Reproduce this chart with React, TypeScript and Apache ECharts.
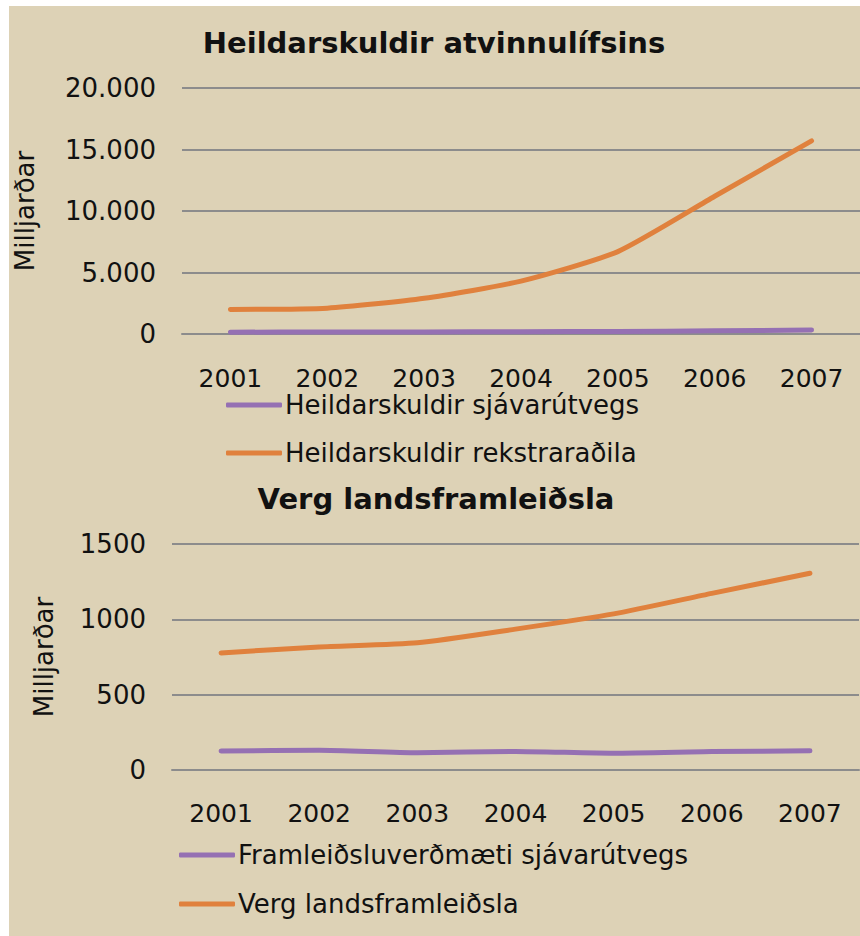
import React, { useEffect, useRef } from "react";
import * as echarts from "echarts";

const years = ["2001", "2002", "2003", "2004", "2005", "2006", "2007"];

const debtFishing = [150, 160, 170, 190, 210, 260, 320];
const debtBusiness = [2000, 2100, 2900, 4300, 6700, 11200, 15700];

const fishingProduction = [126, 131, 115, 123, 111, 122, 127];
const gdp = [777, 817, 844, 935, 1036, 1172, 1306];

const title1 = "Heildarskuldir atvinnulífsins";
const title2 = "Verg landsframleiðsla";
const yName = "Milljarðar";
const s1Names = ["Heildarskuldir sjávarútvegs", "Heildarskuldir rekstraraðila"];
const s2Names = ["Framleiðsluverðmæti sjávarútvegs", "Verg landsframleiðsla"];

const PURPLE = "#9570B3";
const ORANGE = "#E0813D";
const GRID = "#8C8C8C";
const FONT = "'DejaVu Sans', sans-serif";

export default function App() {
  const ref = useRef<HTMLDivElement>(null);
  useEffect(() => {
    if (!ref.current) return;
    const chart = echarts.init(ref.current, undefined, { renderer: "svg" });
    const axisLabel = { color: "#111", fontFamily: FONT, fontSize: 25, lineHeight: 20 };
    const xAxisBase = {
      type: "category" as const,
      data: years,
      boundaryGap: true,
      axisLine: { show: true, lineStyle: { color: GRID, width: 2 } },
      axisTick: { show: false },
    };
    const yAxisBase = {
      type: "value" as const,
      name: yName,
      nameLocation: "middle" as const,
      nameRotate: 90,
      nameTextStyle: { color: "#111", fontFamily: FONT, fontSize: 26 },
      axisLine: { show: false },
      axisTick: { show: false },
      splitLine: { show: true, lineStyle: { color: GRID, width: 2 } },
    };
    const lineSeries = (name: string, data: number[], color: string, idx: number) => ({
      type: "line" as const,
      name,
      data,
      xAxisIndex: idx,
      yAxisIndex: idx,
      symbol: "none",
      smooth: 0.2,
      lineStyle: { color, width: 5, cap: "round" as const, join: "round" as const },
      itemStyle: { color },
      z: color === ORANGE ? 3 : 4,
    });
    const legend = (name: string, left: number, cy: number) => ({
      data: [name],
      left,
      top: cy - 10,
      orient: "horizontal" as const,
      icon: "roundRect",
      itemWidth: 56,
      itemHeight: 5,
      itemGap: 0,
      padding: 0,
      textStyle: { color: "#111", fontFamily: FONT, fontSize: 26, lineHeight: 20, padding: [0, 0, 0, -2] },
      selectedMode: false,
    });
    chart.setOption({
      animation: false,
      backgroundColor: "#ffffff",
      graphic: [
        {
          type: "rect",
          shape: { x: 9, y: 6, width: 860, height: 940 },
          style: { fill: "#DDD2B6" },
          z: -10,
          silent: true,
        },
      ],
      title: [
        {
          text: title1,
          left: 434,
          top: 28,
          textAlign: "center",
          padding: 0,
          textStyle: { fontFamily: FONT, fontWeight: "bold", fontSize: 29, color: "#111" },
        },
        {
          text: title2,
          left: 436,
          top: 484,
          textAlign: "center",
          padding: 0,
          textStyle: { fontFamily: FONT, fontWeight: "bold", fontSize: 29, color: "#111" },
        },
      ],
      legend: [
        legend(s1Names[0], 226, 402),
        legend(s1Names[1], 226, 450),
        legend(s2Names[0], 179, 852),
        legend(s2Names[1], 179, 901),
      ],
      grid: [
        { left: 182, top: 88, width: 682, height: 246 },
        { left: 172, top: 544, width: 687, height: 226 },
      ],
      xAxis: [
        { ...xAxisBase, gridIndex: 0, axisLabel: { ...axisLabel, margin: 34 } },
        { ...xAxisBase, gridIndex: 1, axisLabel: { ...axisLabel, margin: 33 } },
      ],
      yAxis: [
        {
          ...yAxisBase,
          gridIndex: 0,
          min: 0,
          max: 20000,
          interval: 5000,
          nameGap: 144,
          axisLabel: {
            ...axisLabel,
            fontSize: 26,
            margin: 26,
            formatter: (v: number) => (v === 0 ? "0" : v.toLocaleString("de-DE")),
          },
        },
        {
          ...yAxisBase,
          gridIndex: 1,
          min: 0,
          max: 1500,
          interval: 500,
          nameGap: 115,
          axisLabel: { ...axisLabel, fontSize: 26, margin: 26, formatter: (v: number) => String(v) },
        },
      ],
      series: [
        lineSeries(s1Names[0], debtFishing, PURPLE, 0),
        lineSeries(s1Names[1], debtBusiness, ORANGE, 0),
        lineSeries(s2Names[0], fishingProduction, PURPLE, 1),
        lineSeries(s2Names[1], gdp, ORANGE, 1),
      ],
    });
    return () => chart.dispose();
  }, []);
  return (
    <div
      ref={ref}
      style={{ position: "absolute", left: 0, top: 0, width: 860, height: 936 }}
    />
  );
}
